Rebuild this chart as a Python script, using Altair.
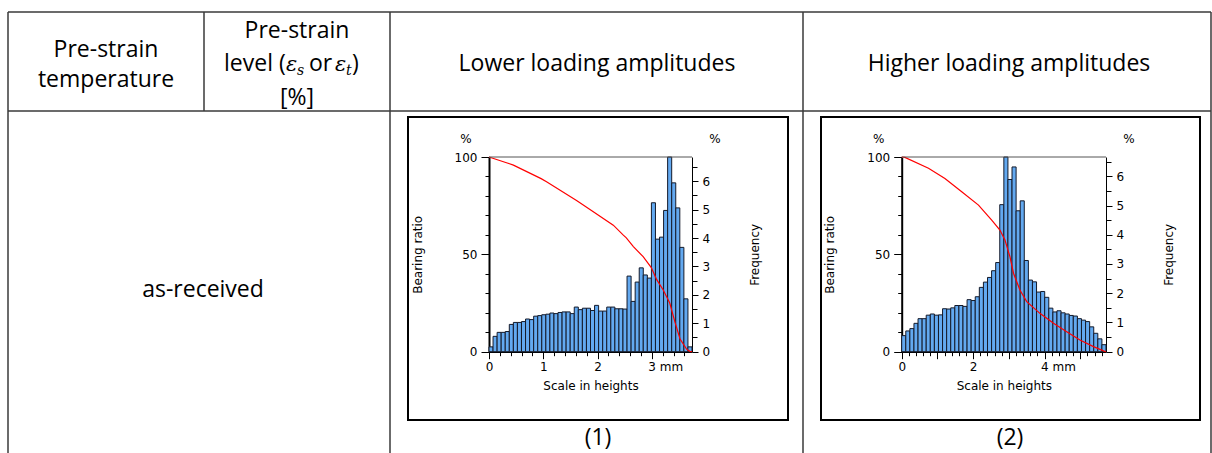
import altair as alt
import pandas as pd

W, H = 1212, 453

# ---------------- values ----------------
# (1) Lower loading amplitudes
A_X_MAX = 3.74      # mm, end of the "Scale in heights" axis
A_F_MAX = 6.85      # %, top of the Frequency axis
A_FREQ = [0.17, 0.54, 0.68, 0.68, 0.71, 0.96, 1.03, 1.03, 1.06, 1.15,
          1.13, 1.25, 1.27, 1.30, 1.32, 1.36, 1.34, 1.38, 1.40, 1.40,
          1.34, 1.57, 1.48, 1.53, 1.53, 1.45, 1.63, 1.43, 1.43, 1.57,
          1.57, 1.51, 1.51, 1.50, 2.66, 1.77, 2.45, 2.95, 2.70, 2.59,
          5.24, 3.96, 4.03, 4.97, 7.00, 5.94, 5.06, 3.67, 1.86, 0.17]
A_CURVE_MM = [0.00, 0.35, 0.45, 0.96, 1.06, 1.62, 1.86, 2.29, 2.47, 2.53, 2.66,
              2.84, 2.99, 3.09, 3.21, 3.33, 3.43, 3.52, 3.64, 3.70, 3.74]
A_CURVE_BR = [100.0, 96.8, 95.8, 88.9, 87.3, 77.5, 73.0, 65.0, 60.0, 58.5, 54.0,
              48.8, 43.2, 37.0, 31.7, 25.0, 14.8, 6.5, 1.3, 0.2, 0.0]

# (2) Higher loading amplitudes
B_X_MAX = 5.72
B_F_MAX = 6.66
B_FREQ = [0.55, 0.71, 0.79, 0.97, 1.13, 1.13, 1.25, 1.29, 1.25, 1.26,
          1.47, 1.46, 1.50, 1.58, 1.58, 1.55, 1.78, 1.75, 1.88, 2.20,
          2.38, 2.54, 2.77, 3.05, 5.03, 6.90, 5.89, 6.32, 4.82, 5.16,
          3.12, 2.45, 2.39, 2.04, 2.06, 1.86, 1.49, 1.36, 1.40, 1.33,
          1.29, 1.24, 1.22, 1.13, 1.08, 1.03, 0.85, 0.63, 0.44, 0.24]
B_CURVE_MM = [0.00, 0.09, 0.75, 1.21, 1.68, 2.15, 2.52, 2.75, 2.89, 3.03, 3.13,
              3.31, 3.50, 3.87, 4.25, 4.62, 4.99, 5.37, 5.65, 5.72]
B_CURVE_BR = [100.0, 99.8, 94.2, 89.0, 82.2, 75.3, 67.6, 62.5, 57.4, 48.8, 40.3,
              31.7, 25.7, 19.7, 14.6, 10.3, 6.0, 2.6, 0.4, 0.0]

# ---------------- table texts ----------------
HEAD_TEXTS = ["Pre-strain", "temperature", "Pre-strain", "[%]",
              "Lower loading amplitudes", "Higher loading amplitudes",
              "as-received", "(1)", "(2)"]

# ---------------- layout (pixels) ----------------
PT, PB = 157.0, 351.7
A_PX = (489.0, 692.0)
B_PX = (901.7, 1106.0)
AXIS_FONT = "DejaVu Sans"
AXIS_SIZE = 12
HEAD_FONT = "Open Sans"
HEAD_SIZE = 23
HEAD_X = [106, 106, 297, 297, 597, 1009, 203, 598, 1010]
HEAD_Y = [57, 87, 38, 105, 71, 71, 297, 445, 445]

LINE_COLOR = "#3a3a3a"


def pxX(f):
    return alt.X(f, type="quantitative", scale=None, axis=None)


def pxY(f):
    return alt.Y(f, type="quantitative", scale=None, axis=None)


def panel(freq, xmax, fmax, mm, br, px0, px1, lab_step, unit_at):
    n = len(freq)
    w = xmax / n
    bars = pd.DataFrame({"lo": [i * w for i in range(n)],
                         "hi": [(i + 1) * w for i in range(n)],
                         "freq": freq})
    curve = pd.DataFrame({"mm": mm, "br": br})
    xscale = alt.Scale(domain=[0, xmax], range=[px0, px1], nice=False, zero=False)
    fscale = alt.Scale(domain=[0, fmax], range=[PB, PT], nice=False, clamp=True)
    bscale = alt.Scale(domain=[0, 100], range=[PB, PT], nice=False)

    xticks = [round(0.2 * i, 1) for i in range(int(xmax / 0.2 + 1e-9) + 1)]
    x_axis = alt.Axis(
        orient="bottom", offset=PB - H, values=xticks, grid=False,
        labelExpr=(f"datum.value % {lab_step} === 0 ? (datum.value === {unit_at} ? "
                   f"'{unit_at} mm' : format(datum.value, 'd')) : ''"),
        labelAlign={"condition": {"test": f"datum.value === {unit_at}", "value": "left"},
                    "value": "center"},
        labelOffset={"condition": {"test": f"datum.value === {unit_at}", "value": -4},
                     "value": 0},
        labelOverlap=False, labelFlush=False, labelPadding=3,
        tickSize={"condition": {"test": "datum.value % 1 === 0", "value": 7}, "value": 4},
        tickColor="black", domainColor="black", domainWidth=1.5,
        title="Scale in heights", titlePadding=8)
    fticks = [0.5 * i for i in range(int(fmax / 0.5 + 1e-9) + 1)]
    f_axis = alt.Axis(
        orient="right", offset=px1 - W, values=fticks, grid=False,
        labelExpr="datum.value % 1 === 0 ? format(datum.value, 'd') : ''",
        labelOverlap=False, labelFlush=False, labelPadding=4,
        tickSize={"condition": {"test": "datum.value % 1 === 0", "value": 6}, "value": 5},
        tickColor="black", domainColor="black", domainWidth=1,
        title="Frequency", titleAngle=270, titleBaseline="top", titlePadding=40)
    b_axis = alt.Axis(
        orient="left", offset=-px0, values=list(range(0, 101, 10)), grid=False,
        labelExpr="datum.value % 50 === 0 ? datum.label : ''",
        labelOverlap=False, labelFlush=False, labelPadding=4,
        tickSize={"condition": {"test": "datum.value % 50 === 0", "value": 8}, "value": 4},
        tickColor="black", domainColor="black", domainWidth=2,
        title="Bearing ratio", titleAngle=270, titlePadding=30)

    bar_layer = alt.Chart(bars).mark_bar(
        fill="#63a9f0", stroke="#141a2a", strokeWidth=1
    ).encode(
        x=alt.X("lo:Q", scale=xscale, axis=x_axis),
        x2="hi:Q",
        y=alt.Y("freq:Q", scale=fscale, axis=f_axis),
        y2=alt.datum(0),
    )
    line_layer = alt.Chart(curve).mark_line(color="#ff0000", strokeWidth=1.2).encode(
        x=alt.X("mm:Q", scale=xscale, axis=None),
        y=alt.Y("br:Q", scale=bscale, axis=b_axis),
    )
    top_rule = alt.Chart(pd.DataFrame({"a": [px0], "b": [px1], "y": [PT]})).mark_rule(
        color="#555555", strokeWidth=1
    ).encode(x=pxX("a"), x2="b:Q", y=pxY("y"))
    pct = alt.Chart(pd.DataFrame({"x": [px0 - 23, px1 + 23], "y": [143, 143], "t": ["%", "%"]})).mark_text(
        font=AXIS_FONT, fontSize=AXIS_SIZE, align="center", baseline="alphabetic", color="black"
    ).encode(x=pxX("x"), y=pxY("y"), text="t:N")
    return [bar_layer, line_layer, top_rule, pct]


# table lines
lines = pd.DataFrame({
    "x":  [8, 8, 8, 204, 390, 803, 1211],
    "x2": [1211, 1211, 8, 204, 390, 803, 1211],
    "y":  [12, 111, 12, 12, 12, 12, 12],
    "y2": [12, 111, 453, 111, 453, 453, 453],
})
table_layer = alt.Chart(lines).mark_rule(color=LINE_COLOR, strokeWidth=1.5).encode(
    x=pxX("x"), x2="x2:Q", y=pxY("y"), y2="y2:Q")

frames = pd.DataFrame({"x": [408, 821], "x2": [788, 1200], "y": [117, 117], "y2": [420, 420]})
frame_layer = alt.Chart(frames).mark_rect(
    fillOpacity=0, stroke="black", strokeWidth=2
).encode(x=pxX("x"), x2="x2:Q", y=pxY("y"), y2="y2:Q")

head = pd.DataFrame({"x": HEAD_X, "y": HEAD_Y, "t": HEAD_TEXTS})
head_layer = alt.Chart(head).mark_text(
    font=HEAD_FONT, fontSize=HEAD_SIZE, align="center", baseline="alphabetic", color="black"
).encode(x=pxX("x"), y=pxY("y"), text="t:N")

# "level (εs or εt)" built from pieces
lvl_norm = pd.DataFrame({"x": [224, 309, 352], "y": [71, 71, 71], "t": ["level (", "or", ")"]})
lvl_norm_layer = alt.Chart(lvl_norm).mark_text(
    font=HEAD_FONT, fontSize=HEAD_SIZE, align="left", baseline="alphabetic", color="black"
).encode(x=pxX("x"), y=pxY("y"), text="t:N")
lvl_eps = pd.DataFrame({"x": [286, 335], "y": [71, 71], "t": ["ε", "ε"]})
lvl_eps_layer = alt.Chart(lvl_eps).mark_text(
    font="DejaVu Serif", fontSize=21, fontStyle="italic", align="left", baseline="alphabetic", color="black"
).encode(x=pxX("x"), y=pxY("y"), text="t:N")
lvl_sub = pd.DataFrame({"x": [297, 346], "y": [75, 75], "t": ["s", "t"]})
lvl_sub_layer = alt.Chart(lvl_sub).mark_text(
    font="DejaVu Serif", fontSize=14, fontStyle="italic", align="left", baseline="alphabetic", color="black"
).encode(x=pxX("x"), y=pxY("y"), text="t:N")

layers = [table_layer, frame_layer, head_layer, lvl_norm_layer, lvl_eps_layer, lvl_sub_layer]
layers += panel(A_FREQ, A_X_MAX, A_F_MAX, A_CURVE_MM, A_CURVE_BR, A_PX[0], A_PX[1], 1, 3)
layers += panel(B_FREQ, B_X_MAX, B_F_MAX, B_CURVE_MM, B_CURVE_BR, B_PX[0], B_PX[1], 2, 4)

chart = alt.layer(*layers).resolve_scale(
    x="independent", y="independent"
).resolve_axis(
    x="independent", y="independent"
).properties(
    width=W, height=H, padding=0, background="white",
    autosize=alt.AutoSizeParams(type="none"),
).configure_view(stroke=None).configure_axis(
    labelFont=AXIS_FONT, labelFontSize=AXIS_SIZE, labelColor="black",
    titleFont=AXIS_FONT, titleFontSize=AXIS_SIZE, titleColor="black", titleFontWeight="normal",
)

chart.save("out.html", embed_options={"renderer": "svg", "actions": False})
